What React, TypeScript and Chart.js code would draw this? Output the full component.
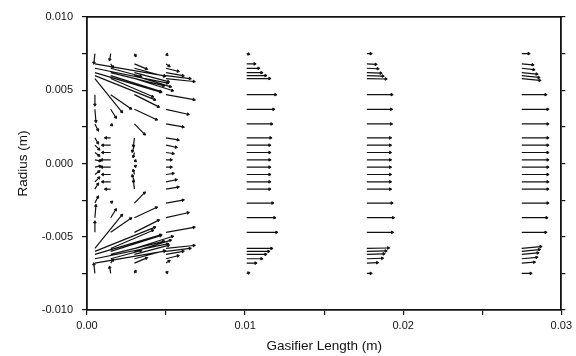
import React, { useEffect, useRef } from 'react';
import { Chart, registerables } from 'chart.js';
Chart.register(...registerables);

// Grid of vector origins (m)
const colX = [0.0005, 0.0015, 0.003, 0.005, 0.0101, 0.0177, 0.0275];
const rowY = [
  0.0075, 0.0068, 0.0065, 0.0062, 0.006, 0.0058, 0.0047, 0.0037, 0.0027, 0.00175, 0.00125, 0.00075, 0.00025,
  -0.00025, -0.00075, -0.00125, -0.00175, -0.0027, -0.0037, -0.0047, -0.0058, -0.006, -0.0062, -0.0065, -0.0068, -0.0075,
];

// Velocity components per column (arbitrary units), top row to bottom row
const U1 = [-1, 70, 73, 66, 60, 27, 0, 1, 3, 3, 4, 4, 5, 5, 4, 4, 3, 3, 1, 0, 27, 60, 66, 73, 70, -1];
const V1 = [-10, -13, -16, -21, -26, -36, -11, -13, -6.5, -5.5, -4.3, -3.2, -1.1, 1.1, 3.2, 4.3, 5.5, 6.5, 13, 11, 36, 26, 21, 16, 13, 10];
const U2 = [-1, 2, 30, 53, 50, 42, 20, 5, 1, -5, -8, -8, -9, -9, -8, -8, -5, 1, 5, 20, 42, 50, 53, 30, 2, -1];
const V2 = [-6.5, -3.2, -8.6, -14, -17, -19.5, -15, -8.6, -1.1, 0, 0, 0, 0, 0, 0, 0, 0, 1.1, 8.6, 15, 19.5, 17, 14, 8.6, 3.2, 6.5];
const U3 = [1, 12, 30, 34, 36, 38, 24, 22, 10, -1, -2, -1, 1, 1, -1, -2, -1, 10, 22, 24, 38, 36, 34, 30, 12, 1];
const V3 = [-2.2, -5.4, -8.6, -9.7, -12, -13, -13, -11, -11, -8.6, -6.5, -4.3, -1.1, 1.1, 4.3, 6.5, 8.6, 11, 11, 13, 13, 12, 9.7, 8.6, 5.4, 2.2];
const U4 = [1, 3, 12, 17, 24, 28, 28, 22, 17, 12, 10, 7, 5, 5, 7, 10, 12, 17, 22, 28, 28, 24, 17, 12, 3, 1];
const V4 = [-1.1, -2.2, -3.2, -3.2, -3.2, -3.2, -5.4, -5.4, -3.2, -2.2, -2.2, -1.1, 0, 0, 1.1, 2.2, 2.2, 3.2, 5.4, 5.4, 3.2, 3.2, 3.2, 3.2, 2.2, 1.1];
const U5 = [2, 8, 12, 15, 19, 23, 29, 27, 25, 24, 23, 23, 23, 23, 23, 23, 23, 26, 28, 30, 25, 22, 19, 15, 9, 2];
const V5 = [-0.5, 0, 0, 0, 0, 0, 0, 0, 0, 0, 0, 0, 0, 0, 0, 0, 0, 0, 0, 0, 0, 0, 0, 0, 0, 0.5];
const U6 = [4, 9, 11, 14, 16, 19, 25, 24.5, 24.5, 23.5, 23.5, 23.5, 23.5, 23.5, 23.5, 23.5, 23.5, 25, 26.5, 25.5, 21.5, 19, 17, 15.5, 10.5, 4];
const V6 = [0, -0.5, -0.5, -0.5, -0.5, -0.5, 0, 0, 0, 0, 0, 0, 0, 0, 0, 0, 0, 0, 0, 0, 0.5, 0.5, 0.5, 0.5, 0.5, 0];
const U7 = [7, 11, 12, 15, 17, 18, 24, 26, 26, 26, 26, 26, 26, 26, 26, 26, 26, 26, 25, 24, 19, 17.5, 16, 15, 12.5, 9];
const V7 = [0, -1, -1.5, -1.5, -2, -2, 0, 0, 0, 0, 0, 0, 0, 0, 0, 0, 0, 0, 0, 0, 2, 2, 1.5, 1.5, 1, 0];

const U = [U1, U2, U3, U4, U5, U6, U7];
const V = [V1, V2, V3, V4, V5, V6, V7];
const ARROW_SCALE = 6.3e-5; // m of arrow per velocity unit

const xTickValues = [0, 0.005, 0.01, 0.015, 0.02, 0.025, 0.03];
const xTickLabels = ['0.00', '0.01', '0.02', '0.03'];
const yTickValues = [-0.01, -0.0075, -0.005, -0.0025, 0, 0.0025, 0.005, 0.0075, 0.01];
const yTickLabels = ['-0.010', '-0.005', '0.000', '0.005', '0.010'];

const FONT = 'Arial, "Liberation Sans", Helvetica, sans-serif';
const INK = '#111';

export default function App() {
  const ref = useRef<HTMLCanvasElement>(null);
  useEffect(() => {
    const pts: any[] = [];
    colX.forEach((x0, c) => {
      rowY.forEach((y0, r) => {
        const x1 = x0 + U[c][r] * ARROW_SCALE;
        const y1 = y0 + V[c][r] * ARROW_SCALE;
        pts.push({ x: x0, y: y0, head: false });
        pts.push({ x: x1, y: y1, head: true, x0, y0 });
        pts.push({ x: x1, y: null });
      });
    });

    const chart = new Chart(ref.current!, {
      type: 'scatter',
      data: {
        datasets: [
          {
            data: pts,
            showLine: true,
            spanGaps: false,
            borderColor: INK,
            borderWidth: 1.2,
            pointStyle: 'triangle',
            pointRadius: (ctx: any) => (ctx.raw && ctx.raw.head ? 1.5 : 0),
            pointHoverRadius: 0,
            pointBackgroundColor: INK,
            pointBorderColor: INK,
            pointBorderWidth: 1,
            pointRotation: (ctx: any) => {
              const p = ctx.raw;
              if (!p || !p.head) return 0;
              const xs = ctx.chart.scales.x;
              const ys = ctx.chart.scales.y;
              const sx = xs.getPixelForValue(p.x) - xs.getPixelForValue(p.x0);
              const sy = ys.getPixelForValue(p.y) - ys.getPixelForValue(p.y0);
              if (Math.abs(sx) + Math.abs(sy) < 0.01) return 0;
              return (Math.atan2(sx, -sy) * 180) / Math.PI;
            },
            clip: false,
          } as any,
        ],
      },
      options: {
        animation: false,
        responsive: false,
        devicePixelRatio: 1,
        events: [],
        layout: { padding: 0 },
        plugins: { legend: { display: false }, tooltip: { enabled: false } },
        scales: {
          x: {
            type: 'linear',
            position: 'bottom',
            min: 0,
            max: 0.03,
            afterFit: (s: any) => { s.height = 46; },
            afterBuildTicks: (s: any) => { s.ticks = xTickValues.map((v) => ({ value: v })); },
            ticks: {
              autoSkip: false,
              maxRotation: 0,
              padding: 4,
              color: INK,
              font: { family: FONT, size: 11 },
              callback: (v: any) => {
                const i = Math.round(Number(v) / 0.01);
                return Math.abs(Number(v) - i * 0.01) < 1e-9 ? xTickLabels[i] : '';
              },
            },
            grid: { drawOnChartArea: false, drawTicks: true, tickLength: 5, color: INK, lineWidth: 1.2 },
            border: { display: true, color: INK, width: 1.8 },
            title: { display: true, text: 'Gasifier Length (m)', color: INK, font: { family: FONT, size: 13.5 }, padding: { top: 0, bottom: 2 } },
          },
          x2: {
            type: 'linear',
            position: 'top',
            min: 0,
            max: 0.03,
            afterFit: (s: any) => { s.height = 17; },
            ticks: { display: false },
            grid: { display: false },
            border: { display: true, color: INK, width: 1.8 },
          },
          y: {
            type: 'linear',
            position: 'left',
            min: -0.01,
            max: 0.01,
            afterFit: (s: any) => { s.width = 87; },
            afterBuildTicks: (s: any) => { s.ticks = yTickValues.map((v) => ({ value: v })); },
            ticks: {
              autoSkip: false,
              padding: 9,
              color: INK,
              font: { family: FONT, size: 11 },
              callback: (v: any) => {
                const i = Math.round(Number(v) / 0.005);
                return Math.abs(Number(v) - i * 0.005) < 1e-9 ? yTickLabels[i + 2] : '';
              },
            },
            grid: { drawOnChartArea: false, drawTicks: true, tickLength: 5, color: INK, lineWidth: 1.2 },
            border: { display: true, color: INK, width: 1.8 },
            title: { display: true, text: 'Radius (m)', color: INK, font: { family: FONT, size: 13.5 }, padding: { top: 15, bottom: 0 } },
          },
          y2: {
            type: 'linear',
            position: 'right',
            min: -0.01,
            max: 0.01,
            afterFit: (s: any) => { s.width = 12; },
            afterBuildTicks: (s: any) => { s.ticks = yTickValues.map((v) => ({ value: v })); },
            ticks: { display: false },
            grid: { drawOnChartArea: false, drawTicks: true, tickLength: 4, color: INK, lineWidth: 1.2 },
            border: { display: true, color: INK, width: 1.8 },
          },
        },
      } as any,
    });
    return () => chart.destroy();
  }, []);

  return (
    <div style={{ position: 'fixed', left: 0, top: 0, width: 576, height: 356, background: '#fff' }}>
      <canvas ref={ref} width={576} height={356} style={{ display: 'block' }} />
    </div>
  );
}
